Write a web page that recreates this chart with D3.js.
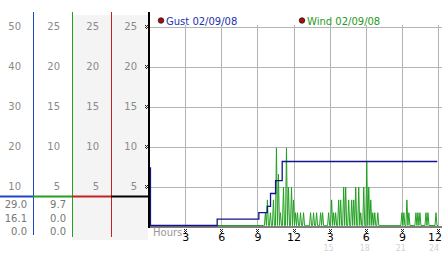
<!DOCTYPE html>
<html><head><meta charset="utf-8">
<script src="https://cdn.jsdelivr.net/npm/d3@7"></script>
<style>body{margin:0;background:#fff;overflow:hidden}svg{display:block}text{font-family:"DejaVu Sans",Verdana,sans-serif}</style>
</head><body><svg id="c" width="442" height="253"></svg>
<script>
// ---------- data ----------
const hourTicks   = [3, 6, 9, 12, 15, 18, 21, 24];
const hourLabels  = ["3", "6", "9", "12", "3", "6", "9", "12"];
const dayTicks    = [15, 18, 21, 24];
const dayLabels   = ["15", "18", "21", "24"];
const col1Ticks   = [10, 20, 30, 40, 50];
const colTicks    = [5, 10, 15, 20, 25];
const col1Stats   = ["29.0", "16.1", "0.0"];
const col2Stats   = ["9.7", "0.0", "0.0"];
const legendLabels = ["Gust 02/09/08", "Wind 02/09/08"];

const gustHours  = [0, 0.08, 5.62, 9.08, 9.78, 10.05, 10.47, 11.02, 23.9];
const gustValues = [7.2, 0, 0.8, 1.6, 2.4, 4.0, 5.6, 8.0, 8.0];

const windCalmHour = 0;          // calm reading before the series below
const windStartHour = 9.5;
const windStepHours = 1 / 12;    // 5-minute readings
const windValues = [
  0,0,1.6,0,3.2,0,0,1.6,0,0,3.2,0,
  0,9.7,0,6.4,0,1.6,0,0,4.8,0,0,9.7,
  0,4.8,0,0,4.8,0,3.2,0,1.6,0,1.6,0,
  0,1.6,0,0,1.6,0,0,0,0,0,0,1.6,
  0,0,1.6,0,0,1.6,0,0,0,1.6,0,1.6,
  0,0,0,0,0,1.6,0,0,3.2,0,1.6,0,
  1.6,0,0,3.2,0,3.2,0,0,4.8,0,4.8,0,
  0,3.2,0,0,3.2,0,3.2,0,4.8,0,0,4.8,
  0,1.6,0,0,4.8,0,0,8.0,0,4.8,0,3.2,
  0,1.6,0,1.6,0,0,1.6,0,0,0,0,0,
  0,0,0,0,0,0,0,0,0,0,0,0,
  0,0,0,0,0,0,1.6,0,1.6,0,0,3.2,
  0,1.6,0,0,0,0,0,0,1.6,0,1.6,0,
  1.6,0,0,0,0,0,1.6,0,1.6,0,0,0,
  0,0,0,0,1.6,0,0
];

// ---------- layout ----------
const svg = d3.select("#c");
const x = d3.scaleLinear().domain([0, 24]).range([149, 438]);
const y = d3.scaleLinear().domain([0, 25]).range([226.5, 26.5]);
const y1 = d3.scaleLinear().domain([0, 50]).range([226.5, 26.5]);
const px = v => Math.round(v) + 0.5;

const C = {gust:"#14148c", blue:"#2244c4", green:"#22a022", red:"#c42222",
           grid:"#b4b4b4", label:"#8a8a8a", shade:"#f4f4f4"};

// shaded columns
svg.append("rect").attr("x", 73).attr("y", 15).attr("width", 75).attr("height", 225).attr("fill", C.shade);

// column lines
const colLines = [{x:33.5, c:C.blue, y2:235}, {x:72.5, c:C.green, y2:237}, {x:111.5, c:C.red, y2:237}];
svg.selectAll(".cl").data(colLines).join("line")
  .attr("x1", d => d.x).attr("x2", d => d.x).attr("y1", 12).attr("y2", d => d.y2)
  .attr("stroke", d => d.c).attr("stroke-width", 1);

// horizontal separator
const sep = [{x1:0, x2:33, c:C.blue}, {x1:33, x2:72, c:C.green}, {x1:72, x2:111, c:C.red}, {x1:111, x2:149, c:"#000"}];
svg.selectAll(".sp").data(sep).join("line")
  .attr("x1", d => d.x1).attr("x2", d => d.x2).attr("y1", 196.5).attr("y2", 196.5)
  .attr("stroke", d => d.c).attr("stroke-width", 2);

// column labels
const lab = svg.append("g").attr("font-size", 10).attr("fill", C.label).attr("text-anchor", "end");
lab.selectAll(".l1").data(col1Ticks).join("text").attr("x", 21).attr("y", d => y1(d) + 3.5).text(d => d);
[60, 99, 137].forEach(cx => {
  lab.append("g").selectAll("text").data(colTicks).join("text")
    .attr("x", cx).attr("y", d => y(d) + 3.5).text(d => d);
});
const statY = [208, 221.5, 235];
lab.append("g").selectAll("text").data(col1Stats).join("text").attr("x", 27).attr("y", (d, i) => statY[i]).attr("fill", "#777").text(d => d);
lab.append("g").selectAll("text").data(col2Stats).join("text").attr("x", 66).attr("y", (d, i) => statY[i]).attr("fill", "#777").text(d => d);

// grid
const grid = svg.append("g").attr("stroke", C.grid).attr("stroke-width", 1);
grid.selectAll(".gh").data(colTicks).join("line")
  .attr("x1", 149).attr("x2", 442).attr("y1", d => px(y(d)) ).attr("y2", d => px(y(d)));
grid.selectAll(".gv").data(hourTicks).join("line")
  .attr("x1", d => px(x(d))).attr("x2", d => px(x(d))).attr("y1", 25).attr("y2", 226);

// wind line
const windPts = [{h: windCalmHour, v: 0}].concat(windValues.map((v, i) => ({h: windStartHour + i * windStepHours, v})));
svg.append("path").datum(windPts)
  .attr("d", d3.line().x(d => x(d.h)).y(d => y(d.v) - 1))
  .attr("fill", "none").attr("stroke", C.green).attr("stroke-width", 1);

// gust line
const gustPts = gustHours.map((h, i) => ({h, v: gustValues[i]}));
svg.append("path").datum(gustPts)
  .attr("d", d3.line().curve(d3.curveStepAfter).x(d => x(d.h) + 0.5).y(d => y(d.v) - 1))
  .attr("fill", "none").attr("stroke", C.gust).attr("stroke-width", 1.3);

// axes
svg.append("line").attr("x1", 149).attr("x2", 149).attr("y1", 12).attr("y2", 228).attr("stroke", "#000").attr("stroke-width", 2);
svg.append("line").attr("x1", 149).attr("x2", 442).attr("y1", 227).attr("y2", 227).attr("stroke", "#000").attr("stroke-width", 1);

// tiny tick glyphs
const glyph = [[0,0],[2,0],[1,1],[0,2],[2,2],[1,3]];
function mark(g, gx, gy) {
  g.selectAll(null).data(glyph).join("rect")
    .attr("x", d => gx + d[0]).attr("y", d => gy + d[1]).attr("width", 1).attr("height", 1).attr("fill", "#222");
}
colTicks.forEach(v => mark(svg.append("g"), 145, Math.round(y(v)) - 2));
hourTicks.forEach(h => mark(svg.append("g"), Math.min(Math.round(x(h)) - 1, 437), 229));

// x labels
svg.append("g").attr("font-size", 11).attr("fill", "#000").attr("text-anchor", "middle")
  .selectAll("text").data(hourTicks).join("text")
  .attr("x", d => Math.min(x(d) + 0.5, 435)).attr("y", 240.5).text((d, i) => hourLabels[i]);
svg.append("g").attr("font-size", 8).attr("fill", "#d2d2d2").attr("text-anchor", "middle")
  .selectAll("text").data(dayTicks).join("text")
  .attr("x", d => Math.min(x(d) - 1, 434)).attr("y", 251).text((d, i) => dayLabels[i]);
svg.append("text").attr("x", 153).attr("y", 236).attr("font-size", 10).attr("fill", "#999").text("Hours");

// legend
const legX = [161, 302], legC = [C.gust, C.green];
const leg = svg.append("g").selectAll("g").data(legendLabels).join("g");
leg.append("circle").attr("cx", (d, i) => legX[i]).attr("cy", 20.5).attr("r", 2.8)
  .attr("fill", "#a01010").attr("stroke", "#000").attr("stroke-width", 0.6);
leg.append("text").attr("x", (d, i) => legX[i] + 5).attr("y", 24.5).attr("font-size", 10)
  .attr("fill", (d, i) => i === 0 ? "#2233b0" : "#1e9a1e").text(d => d);
</script></body></html>
